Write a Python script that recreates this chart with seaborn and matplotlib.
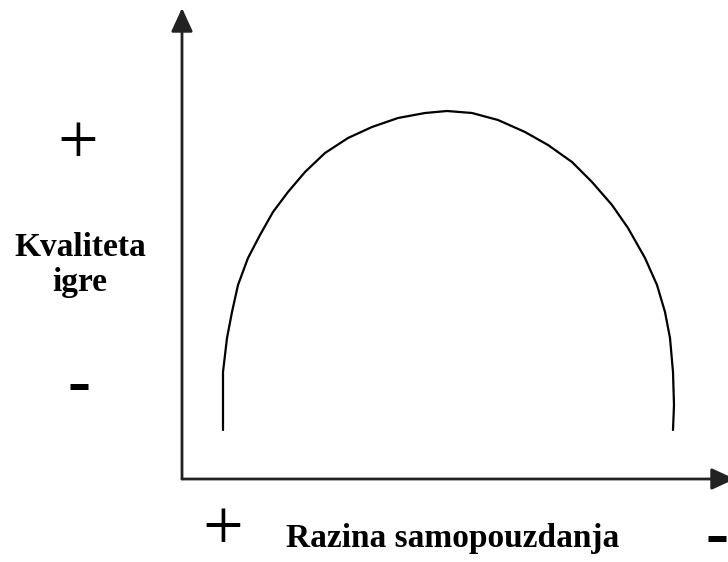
import matplotlib
matplotlib.use("Agg")
import matplotlib.pyplot as plt
import pandas as pd
import seaborn as sns

sns.set_theme(style="white")
# set the font after seaborn, otherwise set_theme overwrites it
plt.rcParams['font.family'] = ['Liberation Serif', 'DejaVu Serif']

# --- data: points (units counted from the axes origin) ---
curve_x = [41, 41, 41, 45, 50, 56, 66, 78, 91, 106, 123, 143, 166, 190, 216, 243, 265,
           290, 316, 343, 366, 390, 410, 430, 446, 463, 475, 483, 488, 491, 492, 491]
curve_y = [49, 74, 107, 141, 167, 194, 221, 244, 267, 287, 307, 326, 341, 352, 361, 366, 368,
           366, 359, 347, 334, 317, 297, 274, 251, 221, 194, 167, 141, 107, 74, 49]

x_label = 'Razina samopouzdanja'
y_label = 'Kvaliteta\nigre'
plus_sign = '+'
minus_sign = '-'

df = pd.DataFrame({'x': curve_x, 'y': curve_y})

W, H = 728, 562
fig = plt.figure(figsize=(W / 100, H / 100), dpi=100)
# axes box: origin at pixel (182, 479), top at y=8, right edge of the image
ax = fig.add_axes([182 / W, 83 / H, 546 / W, 471 / H])

sns.lineplot(data=df, x='x', y='y', ax=ax, sort=False, estimator=None,
             color='black', linewidth=1.6, solid_joinstyle='round')

ax.set_xlim(0, 546)
ax.set_ylim(0, 471)
ax.set_xticks([])
ax.set_yticks([])
ax.set_xlabel('')
ax.set_ylabel('')
for s in ax.spines.values():
    s.set_visible(False)

# axis arrows
arrow_kw = dict(arrowstyle='-|>,head_length=0.72,head_width=0.33', mutation_scale=20,
                lw=2, color='#222222', shrinkA=0, shrinkB=0)
ax.annotate('', xy=(0, 471), xytext=(0, 0), xycoords='data',
            arrowprops=arrow_kw, annotation_clip=False)
ax.annotate('', xy=(553, 0), xytext=(0, 0), xycoords='data',
            arrowprops=arrow_kw, annotation_clip=False)

# labels (pixel positions converted to figure fractions)
def ftext(px, py, s, **kw):
    fig.text(px / W, 1 - py / H, s, ha='center', va='center', color='black', **kw)

ftext(78, 145, plus_sign, fontsize=52)
ftext(79, 387, minus_sign, fontsize=50, fontweight='bold')
ftext(80, 265, y_label, fontsize=24, fontweight='bold', linespacing=1.2)
ftext(223, 532, plus_sign, fontsize=52)
ftext(453, 538, x_label, fontsize=24, fontweight='bold')
ftext(717, 539, minus_sign, fontsize=50, fontweight='bold')

fig.savefig('out.png', dpi=100)
